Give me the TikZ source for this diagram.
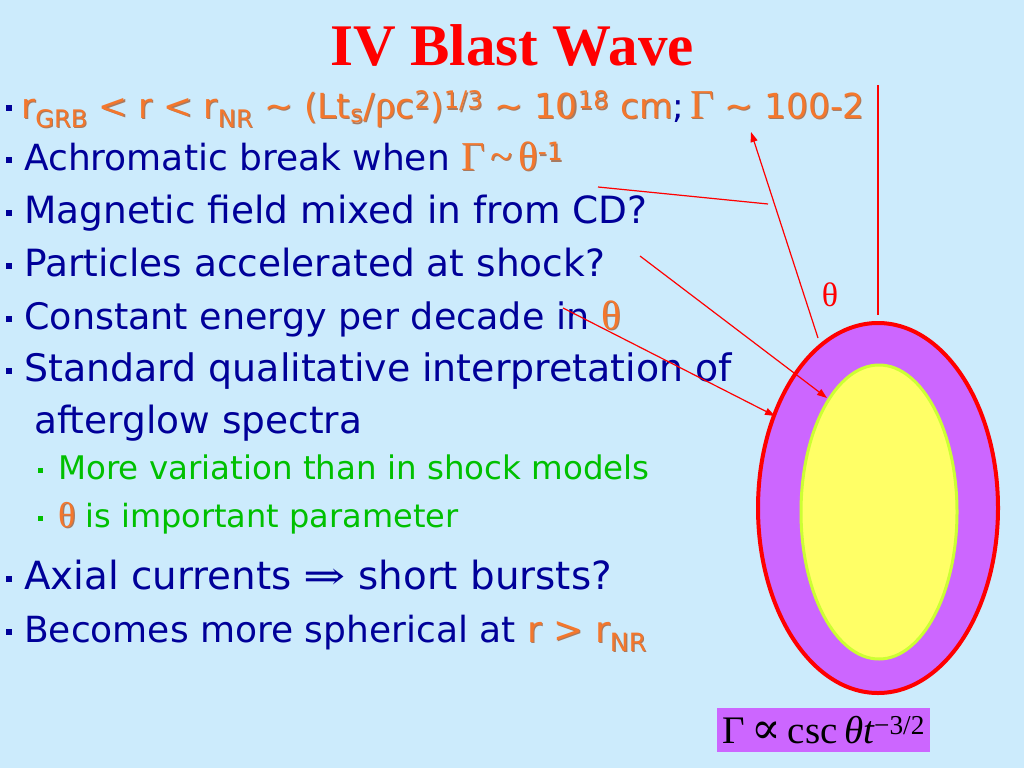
\documentclass[tikz,border=0pt]{standalone}
\usepackage{fontspec}
\setmainfont{DejaVu Sans}
\newfontfamily\tms{Liberation Serif}
\newfontfamily\djs{DejaVu Serif}
\usetikzlibrary{arrows.meta}
\definecolor{bg}{HTML}{CCEBFC}
\definecolor{navy}{HTML}{000099}
\definecolor{orng}{HTML}{F4772C}
\definecolor{oshadow}{HTML}{A87A60}
\definecolor{grn}{HTML}{00C000}
\definecolor{purp}{HTML}{CC66FF}
\definecolor{yel}{HTML}{FFFF66}
\definecolor{yelg}{HTML}{CCFF33}
\newcommand{\tld}{\textasciitilde}
\newcommand{\gk}[1]{{\tms\fontsize{41}{42}\selectfont #1}}
\newcommand{\osh}[1]{\rlap{\kern1.1pt\raisebox{-1.1pt}{\textcolor{oshadow}{#1}}}\textcolor{orng}{#1}}
\begin{document}
\begin{tikzpicture}[x=1pt,y=-1pt,
  body/.style={anchor=base west, inner sep=0pt, text=navy, font=\fontsize{37.5}{42}\selectfont},
  subtxt/.style={anchor=base west, inner sep=0pt, text=grn, font=\fontsize{32.5}{36}\selectfont},
  bul/.style={fill=navy, minimum size=6pt, inner sep=0pt},
  sbul/.style={fill=grn, minimum size=5pt, inner sep=0pt},
  ptr/.style={draw=red, line width=1.2pt},
  ptrarrow/.style={ptr, -{Triangle[length=10pt,width=7pt]}}]
\fill[bg] (0,0) rectangle (1024,768);
\useasboundingbox (0,0) rectangle (1024,768);

% title
\node[anchor=base, inner sep=0pt, text=red, font=\tms\bfseries\fontsize{59}{60}\selectfont] (title) at (512,66) {IV Blast Wave};

% main bullets
\node[bul] (b1) at (9,108) {};
\node[body, font=\fontsize{34.5}{42}\selectfont] (l1) at (21,118) {\osh{r\textsubscript{GRB} < r < r\textsubscript{NR} \tld{} (Lt\textsubscript{s}/\gk{ρ}c\textsuperscript{2})\textsuperscript{1/3} \tld{} 10\textsuperscript{18} cm};\,\osh{\gk{Γ} \tld{} 100-2}};
\node[bul] (b2) at (9,160) {};
\node[body, font=\fontsize{36}{42}\selectfont] (l2) at (24,170) {Achromatic break when \osh{\gk{Γ\kern5pt\tld\kern6ptθ}\textsuperscript{-1}}};
\node[bul] (b3) at (9,213) {};
\node[body] (l3) at (24,223) {Magnetic field mixed in from CD?};
\node[bul] (b4) at (9,266) {};
\node[body] (l4) at (24,276) {Particles accelerated at shock?};
\node[bul] (b5) at (9,319) {};
\node[body, font=\fontsize{36.5}{42}\selectfont] (l5) at (24,329) {Constant energy per decade in \osh{\gk{θ}}};
\node[bul] (b6) at (9,371) {};
\node[body, font=\fontsize{37.9}{42}\selectfont] (l6) at (24,381) {Standard qualitative interpretation of};
\node[body] (l7) at (34,433) {afterglow spectra};
\node[sbul] (s1b) at (40,470) {};
\node[subtxt] (s1) at (58,479) {More variation than in shock models};
\node[sbul] (s2b) at (40,518) {};
\node[subtxt, font=\fontsize{32}{36}\selectfont] (s2) at (58,527) {\osh{\tms\fontsize{36}{36}\selectfont θ} is important parameter};
\node[bul] (b10) at (9,579) {};
\node[body, font=\fontsize{38.8}{42}\selectfont] (l10) at (24,589) {Axial currents \scalebox{1.3}[1]{\djs ⇒} short bursts?};
\node[bul] (b11) at (9,632) {};
\node[body, font=\fontsize{36}{42}\selectfont] (l11) at (24,642) {Becomes more spherical at \osh{r > r\textsubscript{NR}}};

% blast wave
\fill[purp, draw=red, line width=4pt] (878,508) ellipse [x radius=120, y radius=185];
\fill[yel, draw=yelg, line width=3pt] (879,512) ellipse [x radius=78, y radius=147];

\node[text=red, inner sep=0pt, font=\tms\fontsize{34}{34}\selectfont] (th) at (830,295) {θ};

% connector points
\coordinate (axtop) at (878,85);
\coordinate (axbot) at (878,315);
\coordinate (ga) at (768,204);
\coordinate (gb) at (598,187);
\coordinate (atail) at (818,338);
\coordinate (ahead) at (751,132);
\coordinate (btail) at (640,256);
\coordinate (bhead) at (827,398);
\coordinate (ctail) at (563,308);
\coordinate (chead) at (775,416);

\draw[ptr] (axtop) -- (axbot);
\draw[ptr] (gb) -- (ga);
\draw[ptrarrow] (atail) -- (ahead);
\draw[ptrarrow] (btail) -- (bhead);
\draw[ptrarrow] (ctail) -- (chead);

% formula
\node[fill=purp, minimum width=213pt, minimum height=44pt, inner sep=0pt, anchor=north west] (fbox) at (717,708) {};
\node[inner sep=0pt, font=\tms\fontsize{39}{40}\selectfont] (formula) at (fbox.center) {Γ\,{\djs\fontsize{44}{44}\selectfont ∝}\,csc\,{\itshape θt}\textsuperscript{−3/2}};
\end{tikzpicture}
\end{document}
